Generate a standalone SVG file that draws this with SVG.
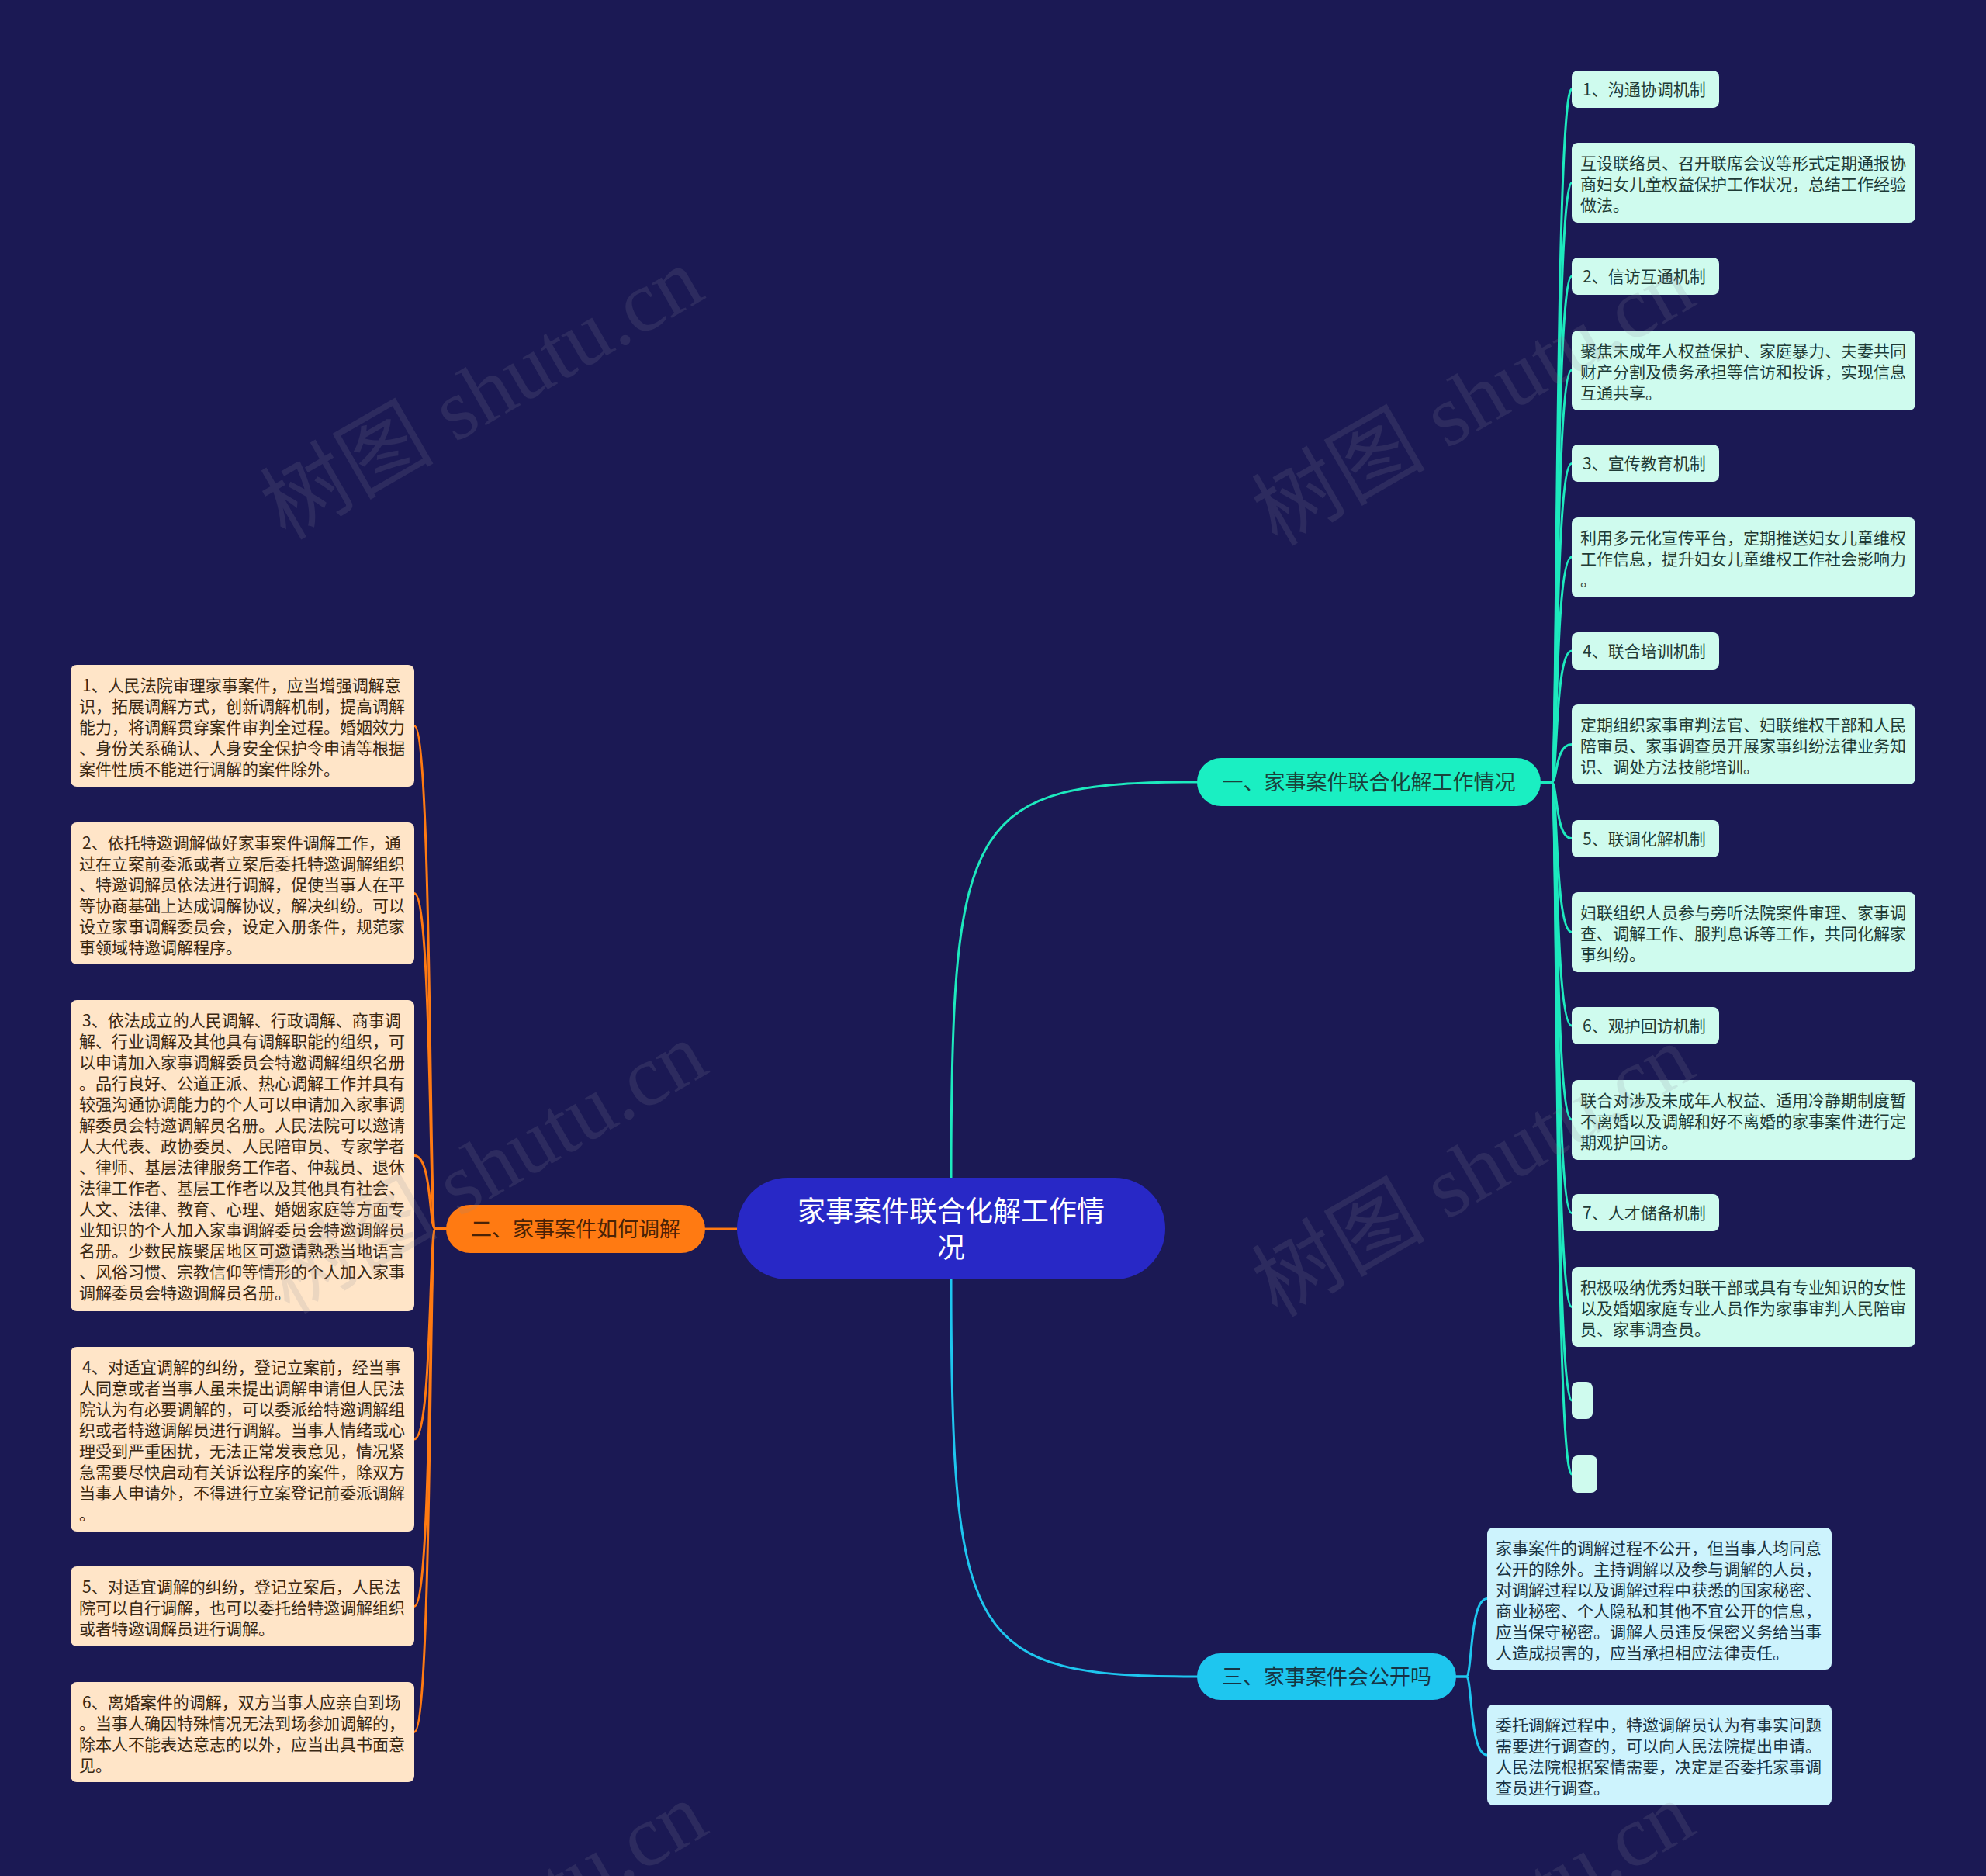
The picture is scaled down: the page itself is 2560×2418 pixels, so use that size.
<svg xmlns="http://www.w3.org/2000/svg" width="2560" height="2418" viewBox="0 0 2560 2418">
<style>
text{font-family:"Noto Sans CJK SC","Noto Sans",sans-serif}
.r{fill:#cffbee}
.rt{fill:#1f3b36;font-size:21px}
.l{fill:#ffe5c8}
.lt{fill:#3a2812;font-size:21px}
.c{fill:#cdf3fd}
.ct{fill:#1b3342;font-size:21px}
.k1{fill:none;stroke:#1de9be;stroke-width:3;stroke-linecap:round}
.k2{fill:none;stroke:#ff7a12;stroke-width:3;stroke-linecap:round}
.k3{fill:none;stroke:#1ec6ef;stroke-width:3;stroke-linecap:round}
.wm{font-family:"Liberation Serif","Noto Sans CJK SC",serif;font-size:112px;fill:#8a8a9a;opacity:0.16}
</style>
<rect width="2560" height="2418" fill="#1b1954"/>
<g id="connectors">
<path class="k1" d="M1226,1518 C1226,1050 1250,1008 1543,1008"/>
<path class="k3" d="M1226,1649 C1226,2119 1250,2161 1543,2161"/>
<path class="k2" d="M950,1584 H909"/>
<path class="k1" d="M1986,1008 H2000 C2008,1008 2004,115 2026,115"/>
<path class="k1" d="M1986,1008 H2000 C2008,1008 2004,235.5 2026,235.5"/>
<path class="k1" d="M1986,1008 H2000 C2008,1008 2004,356 2026,356"/>
<path class="k1" d="M1986,1008 H2000 C2008,1008 2004,477 2026,477"/>
<path class="k1" d="M1986,1008 H2000 C2008,1008 2004,597.5 2026,597.5"/>
<path class="k1" d="M1986,1008 H2000 C2008,1008 2004,718 2026,718"/>
<path class="k1" d="M1986,1008 H2000 C2008,1008 2004,839 2026,839"/>
<path class="k1" d="M1986,1008 H2000 C2008,1008 2004,959.5 2026,959.5"/>
<path class="k1" d="M1986,1008 H2000 C2008,1008 2004,1080.5 2026,1080.5"/>
<path class="k1" d="M1986,1008 H2000 C2008,1008 2004,1201.5 2026,1201.5"/>
<path class="k1" d="M1986,1008 H2000 C2008,1008 2004,1322 2026,1322"/>
<path class="k1" d="M1986,1008 H2000 C2008,1008 2004,1443 2026,1443"/>
<path class="k1" d="M1986,1008 H2000 C2008,1008 2004,1563.5 2026,1563.5"/>
<path class="k1" d="M1986,1008 H2000 C2008,1008 2004,1684.5 2026,1684.5"/>
<path class="k1" d="M1986,1008 H2000 C2008,1008 2004,1805 2026,1805"/>
<path class="k1" d="M1986,1008 H2000 C2008,1008 2004,1900 2026,1900"/>
<path class="k2" d="M575,1584 H561 C553,1584 557,935.5 534,935.5"/>
<path class="k2" d="M575,1584 H561 C553,1584 557,1151.5 534,1151.5"/>
<path class="k2" d="M575,1584 H561 C553,1584 557,1489.5 534,1489.5"/>
<path class="k2" d="M575,1584 H561 C553,1584 557,1855 534,1855"/>
<path class="k2" d="M575,1584 H561 C553,1584 557,2070.5 534,2070.5"/>
<path class="k2" d="M575,1584 H561 C553,1584 557,2232.5 534,2232.5"/>
<path class="k3" d="M1877,2161 H1890 C1898,2161 1894,2060.5 1917,2060.5"/>
<path class="k3" d="M1877,2161 H1890 C1898,2161 1894,2262 1917,2262"/>
</g>
<g id="root">
<rect x="950" y="1518" width="552" height="131" rx="65" fill="#2828c6"/>
<text x="1226" y="1574" fill="#ffffff" font-size="36" text-anchor="middle">家事案件联合化解工作情</text>
<text x="1226" y="1621" fill="#ffffff" font-size="36" text-anchor="middle">况</text>
</g>
<g id="b1">
<rect x="1543" y="977" width="443" height="62" rx="31" fill="#1aefc2"/>
<text x="1764.5" y="1018" fill="#1a423b" font-size="27" text-anchor="middle">一、家事案件联合化解工作情况</text>
</g>
<g id="b2">
<rect x="575" y="1553" width="334" height="62" rx="31" fill="#ff7a12"/>
<text x="742" y="1594" fill="#4a2206" font-size="27" text-anchor="middle">二、家事案件如何调解</text>
</g>
<g id="b3">
<rect x="1543" y="2131" width="334" height="60" rx="30" fill="#1ec6ef"/>
<text x="1710" y="2171" fill="#163444" font-size="27" text-anchor="middle">三、家事案件会公开吗</text>
</g>
<g id="t1"><rect class="r" x="2026" y="91" width="190" height="48" rx="8"/><text class="rt" x="2040" y="123">1、沟通协调机制</text></g>
<g id="d1"><rect class="r" x="2026" y="184" width="443" height="103" rx="8"/><text class="rt"><tspan x="2037" y="218">互设联络员、召开联席会议等形式定期通报协</tspan><tspan x="2037" y="245">商妇女儿童权益保护工作状况，总结工作经验</tspan><tspan x="2037" y="272">做法。</tspan></text></g>
<g id="t2"><rect class="r" x="2026" y="332" width="190" height="48" rx="8"/><text class="rt" x="2040" y="364">2、信访互通机制</text></g>
<g id="d2"><rect class="r" x="2026" y="426" width="443" height="103" rx="8"/><text class="rt"><tspan x="2037" y="460">聚焦未成年人权益保护、家庭暴力、夫妻共同</tspan><tspan x="2037" y="487">财产分割及债务承担等信访和投诉，实现信息</tspan><tspan x="2037" y="514">互通共享。</tspan></text></g>
<g id="t3"><rect class="r" x="2026" y="573" width="190" height="48" rx="8"/><text class="rt" x="2040" y="605">3、宣传教育机制</text></g>
<g id="d3"><rect class="r" x="2026" y="667" width="443" height="103" rx="8"/><text class="rt"><tspan x="2037" y="701">利用多元化宣传平台，定期推送妇女儿童维权</tspan><tspan x="2037" y="728">工作信息，提升妇女儿童维权工作社会影响力</tspan><tspan x="2037" y="755">。</tspan></text></g>
<g id="t4"><rect class="r" x="2026" y="815" width="190" height="48" rx="8"/><text class="rt" x="2040" y="847">4、联合培训机制</text></g>
<g id="d4"><rect class="r" x="2026" y="908" width="443" height="103" rx="8"/><text class="rt"><tspan x="2037" y="942">定期组织家事审判法官、妇联维权干部和人民</tspan><tspan x="2037" y="969">陪审员、家事调查员开展家事纠纷法律业务知</tspan><tspan x="2037" y="996">识、调处方法技能培训。</tspan></text></g>
<g id="t5"><rect class="r" x="2026" y="1057" width="190" height="48" rx="8"/><text class="rt" x="2040" y="1089">5、联调化解机制</text></g>
<g id="d5"><rect class="r" x="2026" y="1150" width="443" height="103" rx="8"/><text class="rt"><tspan x="2037" y="1184">妇联组织人员参与旁听法院案件审理、家事调</tspan><tspan x="2037" y="1211">查、调解工作、服判息诉等工作，共同化解家</tspan><tspan x="2037" y="1238">事纠纷。</tspan></text></g>
<g id="t6"><rect class="r" x="2026" y="1298" width="190" height="48" rx="8"/><text class="rt" x="2040" y="1330">6、观护回访机制</text></g>
<g id="d6"><rect class="r" x="2026" y="1392" width="443" height="103" rx="8"/><text class="rt"><tspan x="2037" y="1426">联合对涉及未成年人权益、适用冷静期制度暂</tspan><tspan x="2037" y="1453">不离婚以及调解和好不离婚的家事案件进行定</tspan><tspan x="2037" y="1480">期观护回访。</tspan></text></g>
<g id="t7"><rect class="r" x="2026" y="1539" width="190" height="48" rx="8"/><text class="rt" x="2040" y="1571">7、人才储备机制</text></g>
<g id="d7"><rect class="r" x="2026" y="1633" width="443" height="103" rx="8"/><text class="rt"><tspan x="2037" y="1667">积极吸纳优秀妇联干部或具有专业知识的女性</tspan><tspan x="2037" y="1694">以及婚姻家庭专业人员作为家事审判人民陪审</tspan><tspan x="2037" y="1721">员、家事调查员。</tspan></text></g>
<g id="e1"><rect class="r" x="2026" y="1781" width="27" height="48" rx="8"/></g>
<g id="e2"><rect class="r" x="2026" y="1876" width="33" height="48" rx="8"/></g>
<g id="l1"><rect class="l" x="91" y="857" width="443" height="157" rx="8"/><text class="lt"><tspan x="106" y="891">1、人民法院审理家事案件，应当增强调解意</tspan><tspan x="102" y="918">识，拓展调解方式，创新调解机制，提高调解</tspan><tspan x="102" y="945">能力，将调解贯穿案件审判全过程。婚姻效力</tspan><tspan x="102" y="972">、身份关系确认、人身安全保护令申请等根据</tspan><tspan x="102" y="999">案件性质不能进行调解的案件除外。</tspan></text></g>
<g id="l2"><rect class="l" x="91" y="1060" width="443" height="183" rx="8"/><text class="lt"><tspan x="106" y="1094">2、依托特邀调解做好家事案件调解工作，通</tspan><tspan x="102" y="1121">过在立案前委派或者立案后委托特邀调解组织</tspan><tspan x="102" y="1148">、特邀调解员依法进行调解，促使当事人在平</tspan><tspan x="102" y="1175">等协商基础上达成调解协议，解决纠纷。可以</tspan><tspan x="102" y="1202">设立家事调解委员会，设定入册条件，规范家</tspan><tspan x="102" y="1229">事领域特邀调解程序。</tspan></text></g>
<g id="l3"><rect class="l" x="91" y="1289" width="443" height="401" rx="8"/><text class="lt"><tspan x="106" y="1323">3、依法成立的人民调解、行政调解、商事调</tspan><tspan x="102" y="1350">解、行业调解及其他具有调解职能的组织，可</tspan><tspan x="102" y="1377">以申请加入家事调解委员会特邀调解组织名册</tspan><tspan x="102" y="1404">。品行良好、公道正派、热心调解工作并具有</tspan><tspan x="102" y="1431">较强沟通协调能力的个人可以申请加入家事调</tspan><tspan x="102" y="1458">解委员会特邀调解员名册。人民法院可以邀请</tspan><tspan x="102" y="1485">人大代表、政协委员、人民陪审员、专家学者</tspan><tspan x="102" y="1512">、律师、基层法律服务工作者、仲裁员、退休</tspan><tspan x="102" y="1539">法律工作者、基层工作者以及其他具有社会、</tspan><tspan x="102" y="1566">人文、法律、教育、心理、婚姻家庭等方面专</tspan><tspan x="102" y="1593">业知识的个人加入家事调解委员会特邀调解员</tspan><tspan x="102" y="1620">名册。少数民族聚居地区可邀请熟悉当地语言</tspan><tspan x="102" y="1647">、风俗习惯、宗教信仰等情形的个人加入家事</tspan><tspan x="102" y="1674">调解委员会特邀调解员名册。</tspan></text></g>
<g id="l4"><rect class="l" x="91" y="1736" width="443" height="238" rx="8"/><text class="lt"><tspan x="106" y="1770">4、对适宜调解的纠纷，登记立案前，经当事</tspan><tspan x="102" y="1797">人同意或者当事人虽未提出调解申请但人民法</tspan><tspan x="102" y="1824">院认为有必要调解的，可以委派给特邀调解组</tspan><tspan x="102" y="1851">织或者特邀调解员进行调解。当事人情绪或心</tspan><tspan x="102" y="1878">理受到严重困扰，无法正常发表意见，情况紧</tspan><tspan x="102" y="1905">急需要尽快启动有关诉讼程序的案件，除双方</tspan><tspan x="102" y="1932">当事人申请外，不得进行立案登记前委派调解</tspan><tspan x="102" y="1959">。</tspan></text></g>
<g id="l5"><rect class="l" x="91" y="2019" width="443" height="103" rx="8"/><text class="lt"><tspan x="106" y="2053">5、对适宜调解的纠纷，登记立案后，人民法</tspan><tspan x="102" y="2080">院可以自行调解，也可以委托给特邀调解组织</tspan><tspan x="102" y="2107">或者特邀调解员进行调解。</tspan></text></g>
<g id="l6"><rect class="l" x="91" y="2168" width="443" height="129" rx="8"/><text class="lt"><tspan x="106" y="2202">6、离婚案件的调解，双方当事人应亲自到场</tspan><tspan x="102" y="2229">。当事人确因特殊情况无法到场参加调解的，</tspan><tspan x="102" y="2256">除本人不能表达意志的以外，应当出具书面意</tspan><tspan x="102" y="2283">见。</tspan></text></g>
<g id="c1"><rect class="c" x="1917" y="1969" width="444" height="183" rx="8"/><text class="ct"><tspan x="1928" y="2003">家事案件的调解过程不公开，但当事人均同意</tspan><tspan x="1928" y="2030">公开的除外。主持调解以及参与调解的人员，</tspan><tspan x="1928" y="2057">对调解过程以及调解过程中获悉的国家秘密、</tspan><tspan x="1928" y="2084">商业秘密、个人隐私和其他不宜公开的信息，</tspan><tspan x="1928" y="2111">应当保守秘密。调解人员违反保密义务给当事</tspan><tspan x="1928" y="2138">人造成损害的，应当承担相应法律责任。</tspan></text></g>
<g id="c2"><rect class="c" x="1917" y="2197" width="444" height="130" rx="8"/><text class="ct"><tspan x="1928" y="2231">委托调解过程中，特邀调解员认为有事实问题</tspan><tspan x="1928" y="2258">需要进行调查的，可以向人民法院提出申请。</tspan><tspan x="1928" y="2285">人民法院根据案情需要，决定是否委托家事调</tspan><tspan x="1928" y="2312">查员进行调查。</tspan></text></g>
<g id="watermark">
<text class="wm" text-anchor="middle" transform="translate(640,540) rotate(-30)">树图 shutu.cn</text>
<text class="wm" text-anchor="middle" transform="translate(1918,548) rotate(-30)">树图 shutu.cn</text>
<text class="wm" text-anchor="middle" transform="translate(645,1538) rotate(-30)">树图 shutu.cn</text>
<text class="wm" text-anchor="middle" transform="translate(1918,1542) rotate(-30)">树图 shutu.cn</text>
<text class="wm" text-anchor="middle" transform="translate(645,2518) rotate(-30)">树图 shutu.cn</text>
<text class="wm" text-anchor="middle" transform="translate(1918,2518) rotate(-30)">树图 shutu.cn</text>
</g>
</svg>
